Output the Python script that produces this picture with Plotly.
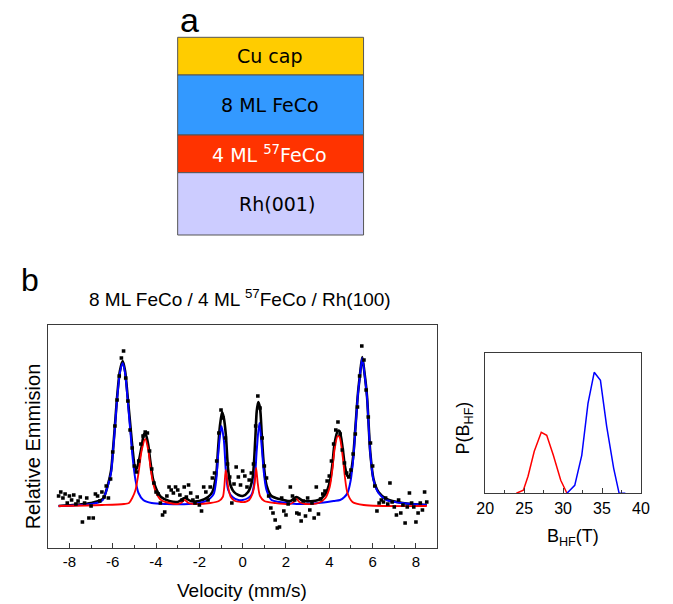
import plotly.graph_objects as go

W, H = 673, 604

# ---------------- data ----------------
layer_labels = ["Cu cap", "8 ML FeCo", "4 ML <sup>57</sup>FeCo", "Rh(001)"]

velocity = [-8.5, -8.4, -8.3, -8.2, -8.1, -8.0, -7.9, -7.8, -7.7, -7.6, -7.5, -7.4, -7.3, -7.2, -7.1,
            -7.0, -6.9, -6.8, -6.7, -6.6, -6.5, -6.4, -6.3, -6.2, -6.1, -6.0, -5.9, -5.8, -5.7, -5.6,
            -5.5, -5.4, -5.3, -5.2, -5.1, -5.0, -4.9, -4.8, -4.7, -4.6, -4.5, -4.4, -4.3, -4.2, -4.1,
            -4.0, -3.9, -3.8, -3.7, -3.6, -3.5, -3.4, -3.3, -3.2, -3.1, -3.0, -2.9, -2.8, -2.7, -2.6,
            -2.5, -2.4, -2.3, -2.2, -2.1, -2.0, -1.9, -1.8, -1.7, -1.6, -1.5, -1.4, -1.3, -1.2, -1.1,
            -1.0, -0.9, -0.8, -0.7, -0.6, -0.5, -0.4, -0.3, -0.2, -0.1, 0.0, 0.1, 0.2, 0.3, 0.4,
            0.5, 0.6, 0.7, 0.8, 0.9, 1.0, 1.1, 1.2, 1.3, 1.4, 1.5, 1.6, 1.7, 1.8, 1.9,
            2.0, 2.1, 2.2, 2.3, 2.4, 2.5, 2.6, 2.7, 2.8, 2.9, 3.0, 3.1, 3.2, 3.3, 3.4,
            3.5, 3.6, 3.7, 3.8, 3.9, 4.0, 4.1, 4.2, 4.3, 4.4, 4.5, 4.6, 4.7, 4.8, 4.9,
            5.0, 5.1, 5.2, 5.3, 5.4, 5.5, 5.6, 5.7, 5.8, 5.9, 6.0, 6.1, 6.2, 6.3, 6.4,
            6.5, 6.6, 6.7, 6.8, 6.9, 7.0, 7.1, 7.2, 7.3, 7.4, 7.5, 7.6, 7.7, 7.8, 7.9,
            8.0, 8.1, 8.2, 8.3, 8.4, 8.5]
emission = [0.10, 0.14, 0.08, 0.12, 0.03, 0.10, 0.06, 0.11, 0.02, 0.05, 0.09, -0.16, 0.03, 0.08, -0.12,
            0.00, -0.12, 0.12, 0.10, 0.05, 0.14, 0.09, 0.20, 0.08, 0.27, 0.54, 0.80, 1.06, 1.30, 1.48,
            1.55, 1.28, 1.05, 0.76, 0.58, 0.40, 0.34, 0.45, 0.62, 0.70, 0.74, 0.73, 0.55, 0.37, 0.23,
            0.14, 0.12, 0.03, -0.09, -0.06, 0.10, 0.19, 0.16, 0.13, 0.19, 0.16, 0.11, 0.06, 0.19, 0.09,
            0.21, 0.13, 0.06, 0.03, 0.09, 0.01, -0.05, 0.19, 0.14, 0.06, 0.19, 0.28, 0.33, 0.45, 0.73,
            0.96, 0.88, 0.68, 0.42, 0.29, 0.03, 0.22, 0.39, 0.29, 0.21, 0.35, 0.30, 0.19, 0.26, 0.33,
            0.42, 0.80, 1.10, 0.98, 0.68, 0.40, 0.28, 0.10, -0.02, -0.07, -0.14, -0.22, -0.21, 0.08, -0.05,
            -0.09, 0.02, 0.19, 0.10, 0.06, -0.07, -0.08, -0.15, 0.05, -0.10, 0.08, -0.04, 0.03, -0.12, 0.19,
            -0.08, 0.07, 0.12, 0.15, 0.25, 0.30, 0.45, 0.62, 0.76, 0.84, 0.72, 0.56, 0.43, 0.33, 0.29,
            0.36, 0.52, 0.72, 0.99, 1.30, 1.60, 1.46, 1.16, 0.89, 0.63, 0.40, 0.20, -0.05, 0.03, 0.06,
            0.04, 0.08, 0.02, 0.23, 0.04, -0.01, -0.09, 0.06, -0.07, 0.01, -0.17, -0.01, 0.13, 0.03, -0.01,
            -0.16, -0.07, 0.03, -0.04, 0.14, 0.04]

# fitted sub-spectra
blue_v = [-8.5, -7.5, -7.0, -6.6, -6.46, -6.24, -6.08, -6.0, -5.9, -5.79, -5.67, -5.54, -5.43, -5.31,
          -5.18, -5.07, -4.95, -4.81, -4.59, -4.2, -3.5, -2.5, -2.0, -1.6, -1.4, -1.32, -1.22, -1.14,
          -1.05, -0.98, -0.87, -0.77, -0.67, -0.47, -0.2, 0.0, 0.25, 0.4, 0.47, 0.58, 0.65, 0.77, 0.88,
          0.98, 1.1, 1.33, 1.7, 2.5, 3.5, 4.2, 4.5, 4.7, 4.84, 4.99, 5.1, 5.21, 5.32, 5.41, 5.52, 5.62,
          5.74, 5.82, 5.89, 6.04, 6.27, 6.64, 7.39, 8.5]
blue_y = [0.00, 0.01, 0.02, 0.04, 0.06, 0.19, 0.33, 0.51, 0.78, 1.09, 1.33, 1.43, 1.33, 1.06,
          0.73, 0.46, 0.26, 0.13, 0.06, 0.03, 0.02, 0.02, 0.03, 0.06, 0.10, 0.13, 0.26, 0.49,
          0.70, 0.80, 0.66, 0.33, 0.16, 0.09, 0.06, 0.06, 0.08, 0.11, 0.15, 0.33, 0.56, 0.83, 0.59,
          0.33, 0.16, 0.06, 0.04, 0.02, 0.03, 0.05, 0.06, 0.09, 0.13, 0.26, 0.46, 0.78, 1.11, 1.29, 1.48, 1.33,
          1.09, 0.79, 0.53, 0.26, 0.13, 0.06, 0.03, 0.01]

red_v = [-8.5, -6.5, -5.48, -5.25, -5.1, -4.95, -4.81, -4.66, -4.5, -4.36, -4.26, -4.14, -3.99,
         -3.77, -3.39, -3.0, -2.85, -2.68, -2.5, -2.2, -1.5, -1.1, -0.92, -0.85, -0.78, -0.67, -0.55,
         -0.35, -0.1, 0.1, 0.3, 0.45, 0.55, 0.62, 0.7, 0.8, 1.0, 1.5, 2.2, 2.35, 2.48, 2.62, 2.9, 3.5,
         3.82, 4.02, 4.14, 4.24, 4.39, 4.47, 4.62, 4.72, 4.84, 5.07, 5.59, 8.5]
red_y = [0.00, 0.01, 0.02, 0.03, 0.08, 0.16, 0.33, 0.56, 0.67, 0.56, 0.39, 0.23, 0.13,
         0.06, 0.03, 0.02, 0.03, 0.06, 0.03, 0.02, 0.03, 0.05, 0.09, 0.19, 0.36, 0.19, 0.09,
         0.05, 0.04, 0.04, 0.06, 0.12, 0.22, 0.38, 0.22, 0.10, 0.05, 0.03, 0.02, 0.04, 0.07, 0.04, 0.02, 0.03,
         0.08, 0.19, 0.36, 0.56, 0.70, 0.69, 0.49, 0.29, 0.13, 0.04, 0.01, 0.00]

total_v = [-8.5, -7.0, -6.46, -6.24, -6.08, -6.0, -5.9, -5.79, -5.67, -5.54, -5.43, -5.31, -5.18,
           -5.07, -4.95, -4.85, -4.66, -4.55, -4.47, -4.36, -4.26, -4.14, -3.99, -3.77, -3.39, -3.0,
           -2.68, -2.4, -2.0, -1.6, -1.4, -1.22, -1.14, -1.05, -0.95, -0.87, -0.78, -0.67, -0.55, -0.4,
           -0.2, 0.0, 0.25, 0.45, 0.58, 0.65, 0.72, 0.8, 0.88, 0.98, 1.1, 1.33, 1.7, 2.2, 2.48, 2.8, 3.5,
           3.82, 4.02, 4.14, 4.24, 4.39, 4.47, 4.62, 4.72, 4.84, 4.92, 4.99, 5.1, 5.21, 5.32, 5.41, 5.52,
           5.62, 5.74, 5.82, 5.89, 6.04, 6.27, 6.64, 7.39, 8.5]
total_y = [0.00, 0.03, 0.07, 0.20, 0.35, 0.53, 0.80, 1.11, 1.35, 1.45, 1.35, 1.09, 0.79,
           0.54, 0.36, 0.40, 0.60, 0.72, 0.71, 0.61, 0.44, 0.27, 0.17, 0.09, 0.05, 0.04,
           0.08, 0.05, 0.05, 0.09, 0.14, 0.32, 0.56, 0.80, 0.94, 0.88, 0.72, 0.36, 0.20, 0.14,
           0.11, 0.10, 0.14, 0.27, 0.66, 0.95, 1.04, 0.98, 0.72, 0.40, 0.21, 0.10, 0.07, 0.05, 0.09, 0.05, 0.06,
           0.12, 0.24, 0.41, 0.62, 0.75, 0.75, 0.57, 0.40, 0.30, 0.30, 0.33, 0.49, 0.80, 1.12, 1.30, 1.49,
           1.34, 1.10, 0.80, 0.54, 0.27, 0.14, 0.07, 0.03, 0.01]

# hyperfine field distributions
bhf_red = [24.0, 24.9, 25.5, 26.3, 27.2, 27.9, 28.75, 29.7, 30.5]
p_red = [0.00, 0.03, 0.17, 0.42, 0.61, 0.58, 0.38, 0.13, 0.00]
bhf_blue = [30.5, 31.5, 32.4, 33.2, 34.0, 34.8, 35.6, 36.5, 37.2, 38.0]
p_blue = [0.00, 0.08, 0.38, 0.90, 1.21, 1.13, 0.67, 0.25, 0.00, 0.00]

vel_ticks = [-8, -6, -4, -2, 0, 2, 4, 6, 8]
bhf_ticks = [20, 25, 30, 35, 40]

# ---------------- helpers ----------------
def fx(x):
    return x / W

def fy(y):
    return 1 - y / H

FONT = "Liberation Sans, Arial, sans-serif"
FRAME = "#3a3a3a"

fig = go.Figure()

# main Mossbauer panel
fig.add_trace(go.Scatter(x=total_v, y=total_y, mode="lines", line=dict(color="black", width=2.6, shape="spline", smoothing=0.8),
                         xaxis="x", yaxis="y", hoverinfo="skip"))
fig.add_trace(go.Scatter(x=blue_v, y=blue_y, mode="lines", line=dict(color="#0000ff", width=2, shape="spline", smoothing=0.8),
                         xaxis="x", yaxis="y"))
fig.add_trace(go.Scatter(x=red_v, y=red_y, mode="lines", line=dict(color="#ff0000", width=1.8, shape="spline", smoothing=0.8),
                         xaxis="x", yaxis="y"))
fig.add_trace(go.Scatter(x=velocity, y=emission, mode="markers",
                         marker=dict(symbol="square", size=3.6, color="black", line=dict(width=0)),
                         xaxis="x", yaxis="y"))

# distribution panel
fig.add_trace(go.Scatter(x=bhf_red, y=p_red, mode="lines", line=dict(color="#ff0000", width=1.5),
                         xaxis="x2", yaxis="y2"))
fig.add_trace(go.Scatter(x=bhf_blue, y=p_blue, mode="lines", line=dict(color="#0000ff", width=1.5),
                         xaxis="x2", yaxis="y2"))

axis_common = dict(showline=True, mirror=True, linecolor=FRAME, linewidth=1.3, showgrid=False, zeroline=False,
                   ticks="inside", tickcolor=FRAME, tickwidth=1, ticklen=5)

fig.update_layout(
    width=W, height=H, margin=dict(l=0, r=0, t=0, b=0),
    paper_bgcolor="white", plot_bgcolor="white", showlegend=False,
    xaxis=dict(domain=[fx(40.5), fx(439.7)], range=[-8.97, 8.97], anchor="y",
               tickvals=vel_ticks, ticktext=[str(t) for t in vel_ticks],
               tickfont=dict(family=FONT, size=15, color="black"),
               minor=dict(dtick=1, tick0=0, ticks="inside", ticklen=3, tickcolor=FRAME),
               **axis_common),
    yaxis=dict(domain=[fy(548), fy(325)], range=[-0.42, 1.81], anchor="x",
               showline=True, mirror=True, linecolor=FRAME, linewidth=1.3, showgrid=False, zeroline=False,
               showticklabels=False, ticks=""),
    xaxis2=dict(domain=[fx(489.3), fx(649.3)], range=[20, 40], anchor="y2",
                tickvals=bhf_ticks, ticktext=[str(t) for t in bhf_ticks],
                tickfont=dict(family=FONT, size=16, color="black"),
                minor=dict(dtick=2.5, tick0=20, ticks="inside", ticklen=3, tickcolor=FRAME),
                **axis_common),
    yaxis2=dict(domain=[fy(493.3), fy(353.3)], range=[0, 1.40], anchor="x2",
                showline=True, mirror=True, linecolor=FRAME, linewidth=1.3, showgrid=False, zeroline=False,
                showticklabels=False, ticks=""),
)

# ---------------- panel a: layer stack ----------------
layer_colors = ["#ffcc00", "#3399ff", "#ff3300", "#ccccff"]
layer_bounds = [37.3, 75.0, 135.0, 172.7, 235.0]
text_colors = ["black", "black", "white", "black"]
text_x = [268, 268, 268, 275]
for i in range(4):
    fig.add_shape(type="rect", xref="paper", yref="paper",
                  x0=fx(173.3), x1=fx(364.3), y0=fy(layer_bounds[i + 1]), y1=fy(layer_bounds[i]),
                  fillcolor=layer_colors[i], line=dict(color="#555555", width=1), layer="above")
    fig.add_annotation(xref="paper", yref="paper", x=fx(text_x[i]),
                       y=fy((layer_bounds[i] + layer_bounds[i + 1]) / 2), showarrow=False,
                       text=layer_labels[i], font=dict(family="DejaVu Sans, sans-serif", size=19, color=text_colors[i]),
                       xanchor="center", yanchor="middle")

def label(text, x, y, size, angle=0, family=FONT):
    fig.add_annotation(xref="paper", yref="paper", x=fx(x), y=fy(y), text=text, showarrow=False,
                       font=dict(family=family, size=size, color="black"), textangle=angle,
                       xanchor="center", yanchor="middle")

label("a", 185, 20, 34)
label("b", 22, 280, 32)
label("8 ML FeCo / 4 ML <sup>57</sup>FeCo / Rh(100)", 237, 298, 19)
label("Relative Emmision", 25, 446, 20, angle=-90)
label("Velocity (mm/s)", 239, 590, 19)
label("P(B<sub>HF</sub>)", 468, 428, 18, angle=-90)
label("B<sub>HF</sub>(T)", 580, 537, 18)

fig.write_html("out.html")
